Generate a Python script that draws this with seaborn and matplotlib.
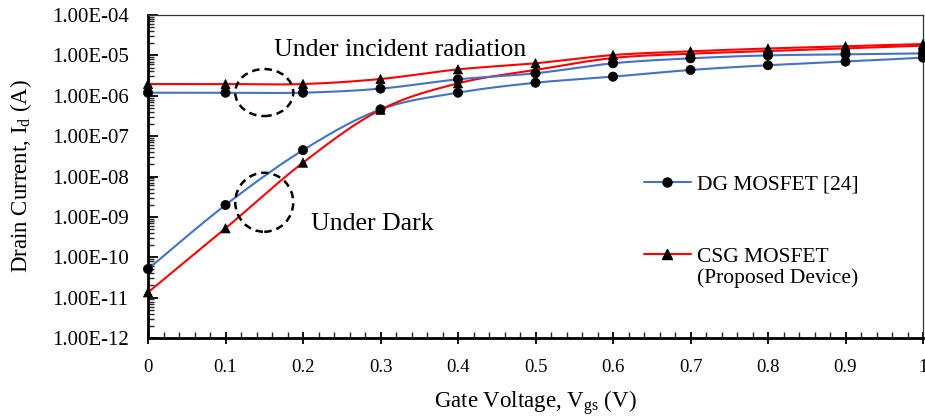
import numpy as np
import pandas as pd
import matplotlib
matplotlib.use("Agg")
import matplotlib.pyplot as plt
import seaborn as sns
from matplotlib.patches import Ellipse
from matplotlib.lines import Line2D
from matplotlib.ticker import FuncFormatter, LogLocator, MultipleLocator, NullFormatter

# ---------------- data ----------------
vgs = [0.0, 0.1, 0.2, 0.3, 0.4, 0.5, 0.6, 0.7, 0.8, 0.9, 1.0]
dg_dark = [5.1e-11, 1.97e-9, 4.5e-8, 4.6e-7, 1.19e-6, 2.1e-6, 2.97e-6, 4.35e-6, 5.7e-6, 7.0e-6, 8.8e-6]
csg_dark = [1.35e-11, 5.2e-10, 2.2e-8, 4.5e-7, 2.03e-6, 4.35e-6, 8.6e-6, 1.1e-5, 1.28e-5, 1.49e-5, 1.74e-5]
dg_rad = [1.19e-6, 1.19e-6, 1.19e-6, 1.5e-6, 2.55e-6, 3.6e-6, 6.37e-6, 8.45e-6, 1.0e-5, 1.06e-5, 1.12e-5]
csg_rad = [1.95e-6, 1.95e-6, 1.95e-6, 2.6e-6, 4.5e-6, 6.37e-6, 1.02e-5, 1.26e-5, 1.48e-5, 1.68e-5, 1.91e-5]

series_names = ["DG dark", "CSG dark", "DG rad", "CSG rad"]
series_vals = [dg_dark, csg_dark, dg_rad, csg_rad]
series_dev = ["DG", "CSG", "DG", "CSG"]

legend_labels = ["DG MOSFET [24]", "CSG MOSFET"]
legend_sub = "(Proposed Device)"
x_label = r"Gate Voltage, V$_\mathregular{gs}$ (V)"
y_label = r"Drain Current, I$_\mathregular{d}$ (A)"
note_rad = "Under incident radiation"
note_dark = "Under Dark"

BLUE = "#4472C4"
RED = "#FF0000"

# ---------------- style ----------------
sns.set_theme(style="white")
plt.rcParams["font.family"] = ["Liberation Serif", "DejaVu Serif"]
plt.rcParams["mathtext.fontset"] = "custom"
plt.rcParams["mathtext.rm"] = "Liberation Serif"
plt.rcParams["mathtext.it"] = "Liberation Serif:italic"


def smooth(xs, ys, n=30):
    """Excel-like smoothed line (Catmull-Rom Bezier) in log space."""
    P = np.column_stack([np.asarray(xs, float), np.log10(np.asarray(ys, float))])
    out = []
    for i in range(len(P) - 1):
        p0 = P[i - 1] if i > 0 else P[i]
        p1, p2 = P[i], P[i + 1]
        p3 = P[i + 2] if i + 2 < len(P) else P[i + 1]
        c1 = p1 + (p2 - p0) / 6.0
        c2 = p2 - (p3 - p1) / 6.0
        t = np.linspace(0, 1, n, endpoint=False)[:, None]
        B = (1 - t) ** 3 * p1 + 3 * (1 - t) ** 2 * t * c1 + 3 * (1 - t) * t ** 2 * c2 + t ** 3 * p2
        out.append(B)
    out.append(P[-1:])
    S = np.vstack(out)
    return S[:, 0], 10 ** S[:, 1]


line_rows = []
pt_rows = []
for name, vals, dev in zip(series_names, series_vals, series_dev):
    sx, sy = smooth(vgs, vals)
    for k, (a, b) in enumerate(zip(sx, sy)):
        line_rows.append({"series": name, "dev": dev, "x": a, "y": b, "order": k})
    for a, b in zip(vgs, vals):
        pt_rows.append({"series": name, "dev": dev, "x": a, "y": b})
lines_df = pd.DataFrame(line_rows)
pts_df = pd.DataFrame(pt_rows)

fig = plt.figure(figsize=(9.25, 4.18), dpi=100)
ax = fig.add_axes([148 / 925, 80 / 418, 775 / 925, 323 / 418])
ax.set_yscale("log")

pal = {"DG dark": BLUE, "DG rad": BLUE, "CSG dark": RED, "CSG rad": RED}
sns.lineplot(data=lines_df, x="x", y="y", hue="series", units="series", palette=pal,
             estimator=None, sort=False, legend=False, linewidth=1.5, ax=ax, zorder=2)
sns.scatterplot(data=pts_df, x="x", y="y", style="dev", markers={"DG": "o", "CSG": "^"},
                color="black", edgecolor="black", s=44, linewidth=0.5, legend=False,
                ax=ax, zorder=3, clip_on=False)

ax.set_xlim(0, 1)
ax.set_ylim(1e-12, 1e-4)

ax.xaxis.set_major_locator(MultipleLocator(0.1))
ax.xaxis.set_minor_locator(MultipleLocator(0.02))
ax.xaxis.set_major_formatter(FuncFormatter(lambda v, p: f"{v:g}"))
ax.yaxis.set_major_locator(LogLocator(base=10, numticks=20))
ax.yaxis.set_minor_locator(LogLocator(base=10, subs=np.arange(2, 10), numticks=20))
ax.yaxis.set_minor_formatter(NullFormatter())
ax.yaxis.set_major_formatter(FuncFormatter(lambda v, p: f"{v:.2E}"))

ax.tick_params(axis="x", which="major", direction="inout", length=9, width=1.3,
               bottom=True, labelsize=13.5, pad=10.5, colors="black")
ax.tick_params(axis="x", which="minor", direction="in", length=4, width=1.0, bottom=True)
ax.tick_params(axis="y", which="major", direction="in", length=7, width=1.3,
               left=True, labelsize=15, pad=14, colors="black")
ax.tick_params(axis="y", which="minor", direction="in", length=4, width=1.0, left=True)

for s in ["left", "bottom"]:
    ax.spines[s].set_color("black")
    ax.spines[s].set_linewidth(2.0)
for s in ["top", "right"]:
    ax.spines[s].set_color("#333333")
    ax.spines[s].set_linewidth(0.9)

ax.set_xlabel(x_label, fontsize=16.5, color="black", labelpad=9)
ax.set_ylabel(y_label, fontsize=16.5, color="black", labelpad=13)

# annotations
ax.text(0.325, 10 ** (-4 - (50 - 15) / 40.375), note_rad, fontsize=18.5, ha="center", va="center",
        color="black")
ax.text(0.29, 10 ** (-4 - (224 - 15) / 40.375), note_dark, fontsize=18.5, ha="center", va="center",
        color="black")


def ell(xc, yc, wpx, hpx):
    ay = (np.log10(yc) + 12) / 8
    e = Ellipse((xc, ay), wpx / 775, hpx / 323, transform=ax.transAxes, fill=False,
                edgecolor="black", linewidth=1.8, linestyle=(0, (3, 2)), zorder=4)
    ax.add_patch(e)


ell(0.15, 1.2e-6, 58, 47)
ell(0.15, 2.3e-9, 58, 59)

handles = [
    Line2D([], [], color=BLUE, lw=1.5, marker="o", mfc="black", mec="black", ms=6.5),
    Line2D([], [], color=RED, lw=1.5, marker="^", mfc="black", mec="black", ms=6.5),
]
leg = ax.legend(handles, legend_labels, loc="upper left", bbox_to_anchor=(633 / 925, 1 - 164 / 418),
                bbox_transform=fig.transFigure, frameon=False, fontsize=15.5, borderpad=0,
                handlelength=2.2, handletextpad=0.25, labelspacing=2.4)
for t in leg.get_texts():
    t.set_color("black")

fig.canvas.draw()
t2 = leg.get_texts()[1]
bb = t2.get_window_extent(renderer=fig.canvas.get_renderer())
fig.text(bb.x0 / 925, (bb.y0 - 12) / 418, legend_sub, fontsize=15.5, color="black",
         ha="left", va="center")

fig.savefig("out.png", dpi=100)
